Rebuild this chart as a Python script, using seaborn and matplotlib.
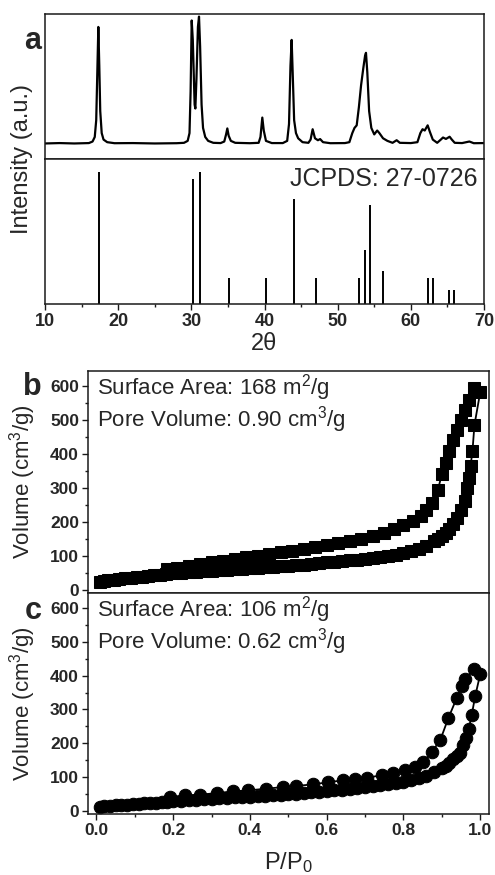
import matplotlib
matplotlib.use("Agg")
import matplotlib.pyplot as plt
from matplotlib.ticker import MultipleLocator
import seaborn as sns

sns.set_style("ticks")
plt.rcParams['font.family'] = ['Liberation Sans', 'DejaVu Sans']
plt.rcParams['mathtext.fontset'] = 'custom'
plt.rcParams['mathtext.rm'] = 'Liberation Sans'
plt.rcParams['mathtext.it'] = 'Liberation Sans:italic'
plt.rcParams['mathtext.bf'] = 'Liberation Sans:bold'

### DATA
# (a) measured XRD pattern, traced off the picture (2theta, intensity a.u.)
xrd_2theta = [10.0, 12.0, 14.0, 16.0, 16.5, 16.8, 17.0, 17.15, 17.29, 17.42, 17.55, 17.75, 18.0, 18.5,
              19.5, 22.0, 25.0, 28.0, 29.0, 29.5, 29.75, 29.9, 30.05, 30.2, 30.45, 30.55, 30.7, 30.9,
              31.05, 31.2, 31.4, 31.6, 31.9, 32.3, 33.0, 34.0, 34.5, 34.75, 34.92, 35.1, 35.4, 36.0,
              38.0, 39.2, 39.45, 39.7, 39.9, 40.2, 41.0, 42.5, 43.1, 43.35, 43.55, 43.71, 43.85, 44.05,
              44.3, 44.6, 45.2, 46.0, 46.3, 46.58, 46.9, 47.3, 47.6, 48.0, 49.0, 51.0, 51.6, 52.0,
              52.3, 52.6, 52.9, 53.2, 53.5, 53.75, 53.87, 54.05, 54.3, 54.6, 55.0, 55.4, 55.7, 56.2,
              56.8, 57.5, 58.06, 58.5, 60.0, 60.9, 61.3, 61.6, 61.9, 62.3, 62.6, 63.0, 63.6, 64.1,
              64.4, 64.8, 65.3, 65.6, 66.0, 67.0, 68.0, 68.6, 70.0]
xrd_intensity = [0.0, 0.3, 0.0, 0.3, 1.5, 5, 18, 55, 90, 60, 25, 8, 3, 1,
                 0.2, 0.3, 0.0, 0.2, 0.5, 2, 8, 40, 95, 80, 30, 27, 50, 90,
                 98, 75, 30, 12, 5, 2, 0.5, 0.3, 1.5, 7, 11.6, 6, 2, 0.5,
                 0.2, 0.5, 5, 20, 10, 2, 0.3, 0.3, 2, 15, 60, 80, 55, 18,
                 8, 4, 1, 0.5, 3, 11, 4, 2.5, 3.4, 1, 0.2, 0.3, 1, 8,
                 12, 14, 28, 45, 58, 68, 70, 55, 25, 12, 7, 10, 8, 4,
                 2, 0.5, 2.5, 0.5, 0.3, 1, 8, 11, 10, 14, 9, 3, 0.5, 3,
                 4.6, 3.5, 5.2, 3, 0.5, 0.3, 1.5, 0.2, 0.3]

# (a) JCPDS 27-0726 reference lines
ref_2theta = [17.33, 30.23, 31.23, 35.1, 40.16, 44.03, 47.0, 52.96, 53.74, 54.42, 56.15, 62.3, 63.03, 65.17, 65.86]
ref_intensity = [100, 95, 100, 20, 20, 80, 20, 20, 41, 75, 25, 20, 20, 11, 11]

# (b) N2 isotherm, sample 1
b_ads_p = [0.01, 0.02, 0.03, 0.045, 0.06, 0.075, 0.09, 0.105, 0.12, 0.135, 0.15, 0.165, 0.18,
           0.20, 0.22, 0.24, 0.26, 0.28, 0.30, 0.32, 0.34, 0.36, 0.38, 0.40, 0.42, 0.44, 0.46, 0.48,
           0.50, 0.52, 0.54, 0.56, 0.58, 0.60, 0.62, 0.64, 0.66, 0.68, 0.70, 0.72, 0.74, 0.76, 0.78,
           0.80, 0.82, 0.84, 0.86, 0.88,
           0.89, 0.90, 0.91, 0.92, 0.93, 0.94, 0.95, 0.96, 0.965, 0.97, 0.975, 0.98, 0.985, 1.0]
b_ads_v = [22, 25, 27, 29, 31, 33, 35, 37, 38, 40, 42, 43, 45,
           48, 50, 52, 53, 55, 56, 57, 59, 60, 61, 63, 64, 66, 67, 69,
           71, 72, 74, 76, 78, 80, 82, 84, 86, 88, 90, 93, 95, 98, 102,
           107, 113, 120, 130, 143,
           150, 158, 167, 180, 195, 210, 235, 262, 300, 330, 365, 410, 485, 582]
b_des_p = [0.985, 0.97, 0.96, 0.95, 0.94, 0.93, 0.92, 0.91, 0.90, 0.89, 0.875, 0.86, 0.845, 0.825,
           0.80, 0.775, 0.75, 0.72, 0.69, 0.66, 0.63, 0.60, 0.57, 0.54, 0.51, 0.48, 0.45, 0.42,
           0.39, 0.36, 0.33, 0.30, 0.27, 0.24, 0.21, 0.185]
b_des_v = [596, 560, 530, 500, 470, 440, 410, 375, 340, 295, 255, 235, 218, 203,
           192, 180, 168, 158, 150, 143, 137, 131, 125, 120, 115, 110, 105, 100,
           95, 90, 85, 80, 75, 70, 65, 60]

# (c) N2 isotherm, sample 2
c_ads_p = [0.01, 0.02, 0.035, 0.05, 0.065, 0.08, 0.095, 0.11, 0.125, 0.14, 0.155, 0.17, 0.185,
           0.20, 0.22, 0.24, 0.26, 0.28, 0.30, 0.32, 0.34, 0.36, 0.38, 0.40, 0.42, 0.44, 0.46, 0.48,
           0.50, 0.52, 0.54, 0.56, 0.58, 0.60, 0.62, 0.64, 0.66, 0.68, 0.70, 0.72, 0.74, 0.76, 0.78,
           0.80, 0.82, 0.84, 0.86, 0.88, 0.90,
           0.91, 0.92, 0.93, 0.94, 0.948, 0.955, 0.963, 0.97, 0.978, 0.987, 1.0]
c_ads_v = [10, 13, 15, 16, 17, 18, 20, 21, 22, 23, 24, 25, 27,
           28, 29, 31, 32, 33, 35, 36, 37, 39, 40, 41, 43, 44, 46, 47,
           49, 50, 52, 54, 56, 58, 60, 62, 64, 66, 69, 72, 75, 78, 82,
           86, 91, 97, 104, 113, 125,
           133, 142, 152, 162, 172, 195, 215, 241, 284, 339, 404]
c_des_p = [0.983, 0.961, 0.952, 0.939, 0.917, 0.896, 0.874, 0.852, 0.83, 0.804, 0.774, 0.743, 0.704,
           0.674, 0.643, 0.604, 0.565, 0.52, 0.487, 0.443, 0.396, 0.357, 0.313, 0.27, 0.23, 0.191]
c_des_v = [421, 389, 369, 334, 274, 209, 174, 145, 130, 120, 112, 105, 97,
           93, 90, 84, 78, 73, 70, 65, 60, 57, 52, 47, 45, 40]

xrd_ticks = [10, 20, 30, 40, 50, 60, 70]
p_ticks = [0.0, 0.2, 0.4, 0.6, 0.8, 1.0]
v_ticks = [0, 100, 200, 300, 400, 500, 600]


### FIGURE
fig = plt.figure(figsize=(4.95, 8.75), dpi=100)
W, H = 495, 875

def box(left, top, right, bottom):
    return [left / W, 1 - bottom / H, (right - left) / W, (bottom - top) / H]

ax_xrd = fig.add_axes(box(45, 14, 484, 159))
ax_ref = fig.add_axes(box(45, 159, 484, 304))
ax_b = fig.add_axes(box(88, 371, 489, 593))
ax_c = fig.add_axes(box(88, 593, 489, 814))

for ax in [ax_xrd, ax_ref, ax_b, ax_c]:
    for sp in ax.spines.values():
        sp.set_linewidth(1.1)
        sp.set_color('#1a1a1a')
    ax.tick_params(which='major', direction='out', length=4, width=1.0, color='#1a1a1a', pad=2.5)
    ax.tick_params(which='minor', direction='out', length=2.5, width=1.0, color='#1a1a1a')

# (a) measured pattern
sns.lineplot(x=xrd_2theta, y=xrd_intensity, ax=ax_xrd, color='black', linewidth=1.6,
             estimator=None, sort=False)
ax_xrd.set_xlim(10, 70)
ax_xrd.set_ylim(-12, 100)
ax_xrd.set_xticks([])
ax_xrd.set_yticks([])
ax_xrd.set_xlabel('')
ax_xrd.set_ylabel('')

# (a) reference sticks
ax_ref.vlines(ref_2theta, 0, ref_intensity, color='black', linewidth=1.4)
ax_ref.set_xlim(10, 70)
ax_ref.set_ylim(0, 110)
ax_ref.set_yticks([])
ax_ref.set_xticks(xrd_ticks)
ax_ref.set_xticklabels([str(t) for t in xrd_ticks], fontweight='bold', fontsize=13)
ax_ref.xaxis.set_minor_locator(MultipleLocator(5))
ax_ref.set_xlabel('2θ', fontsize=17)
ax_ref.xaxis.set_label_coords(0.5, -0.2)
ax_ref.text(0.985, 0.86, 'JCPDS: 27-0726', transform=ax_ref.transAxes, ha='right', va='center',
            fontsize=18)

fig.text(22 / W, 1 - 159 / H, 'Intensity (a.u.)', rotation=90, ha='center', va='center', fontsize=17)
fig.text(33 / W, 1 - 41 / H, 'a', ha='center', va='center', fontsize=22, fontweight='bold')

# (b) and (c) isotherms
iso = [(ax_b, b_ads_p, b_ads_v, b_des_p, b_des_v, 's', 8, '168', '0.90'),
       (ax_c, c_ads_p, c_ads_v, c_des_p, c_des_v, 'o', 9, '106', '0.62')]
for ax, ap, av, dp, dv, mk, ms, area, pore in iso:
    sns.lineplot(x=ap, y=av, ax=ax, color='black', linewidth=1.3, marker=mk, markersize=ms,
                 markeredgecolor='black', estimator=None, sort=False)
    sns.lineplot(x=dp, y=dv, ax=ax, color='black', linewidth=1.3, marker=mk, markersize=ms,
                 markeredgecolor='black', estimator=None, sort=False)
    ax.set_xlim(-0.022, 1.023)
    ax.set_ylim(-10, 645)
    ax.set_yticks(v_ticks)
    ax.set_yticklabels([str(t) for t in v_ticks], fontweight='bold', fontsize=12.5)
    ax.yaxis.set_minor_locator(MultipleLocator(50))
    ax.set_ylabel('Volume (cm$^3$/g)', fontsize=16)
    ax.yaxis.set_label_coords(-0.125, 0.5)
    ax.text(0.023, 0.925, 'Surface Area: ' + area + ' m$^2$/g', transform=ax.transAxes,
            ha='left', va='center', fontsize=16)
    ax.text(0.023, 0.78, 'Pore Volume: ' + pore + ' cm$^3$/g', transform=ax.transAxes,
            ha='left', va='center', fontsize=16)

ax_b.set_xticks([])
ax_b.set_xlabel('')
ax_c.set_xticks(p_ticks)
ax_c.set_xticklabels(['%.1f' % t for t in p_ticks], fontweight='bold', fontsize=12.5)
ax_c.xaxis.set_minor_locator(MultipleLocator(0.1))
ax_c.set_xlabel('P/P$_0$', fontsize=17)
ax_c.xaxis.set_label_coords(0.5, -0.165)

fig.text(32 / W, 1 - 387 / H, 'b', ha='center', va='center', fontsize=22, fontweight='bold')
fig.text(33 / W, 1 - 611 / H, 'c', ha='center', va='center', fontsize=22, fontweight='bold')

fig.savefig('out.png', dpi=100)
